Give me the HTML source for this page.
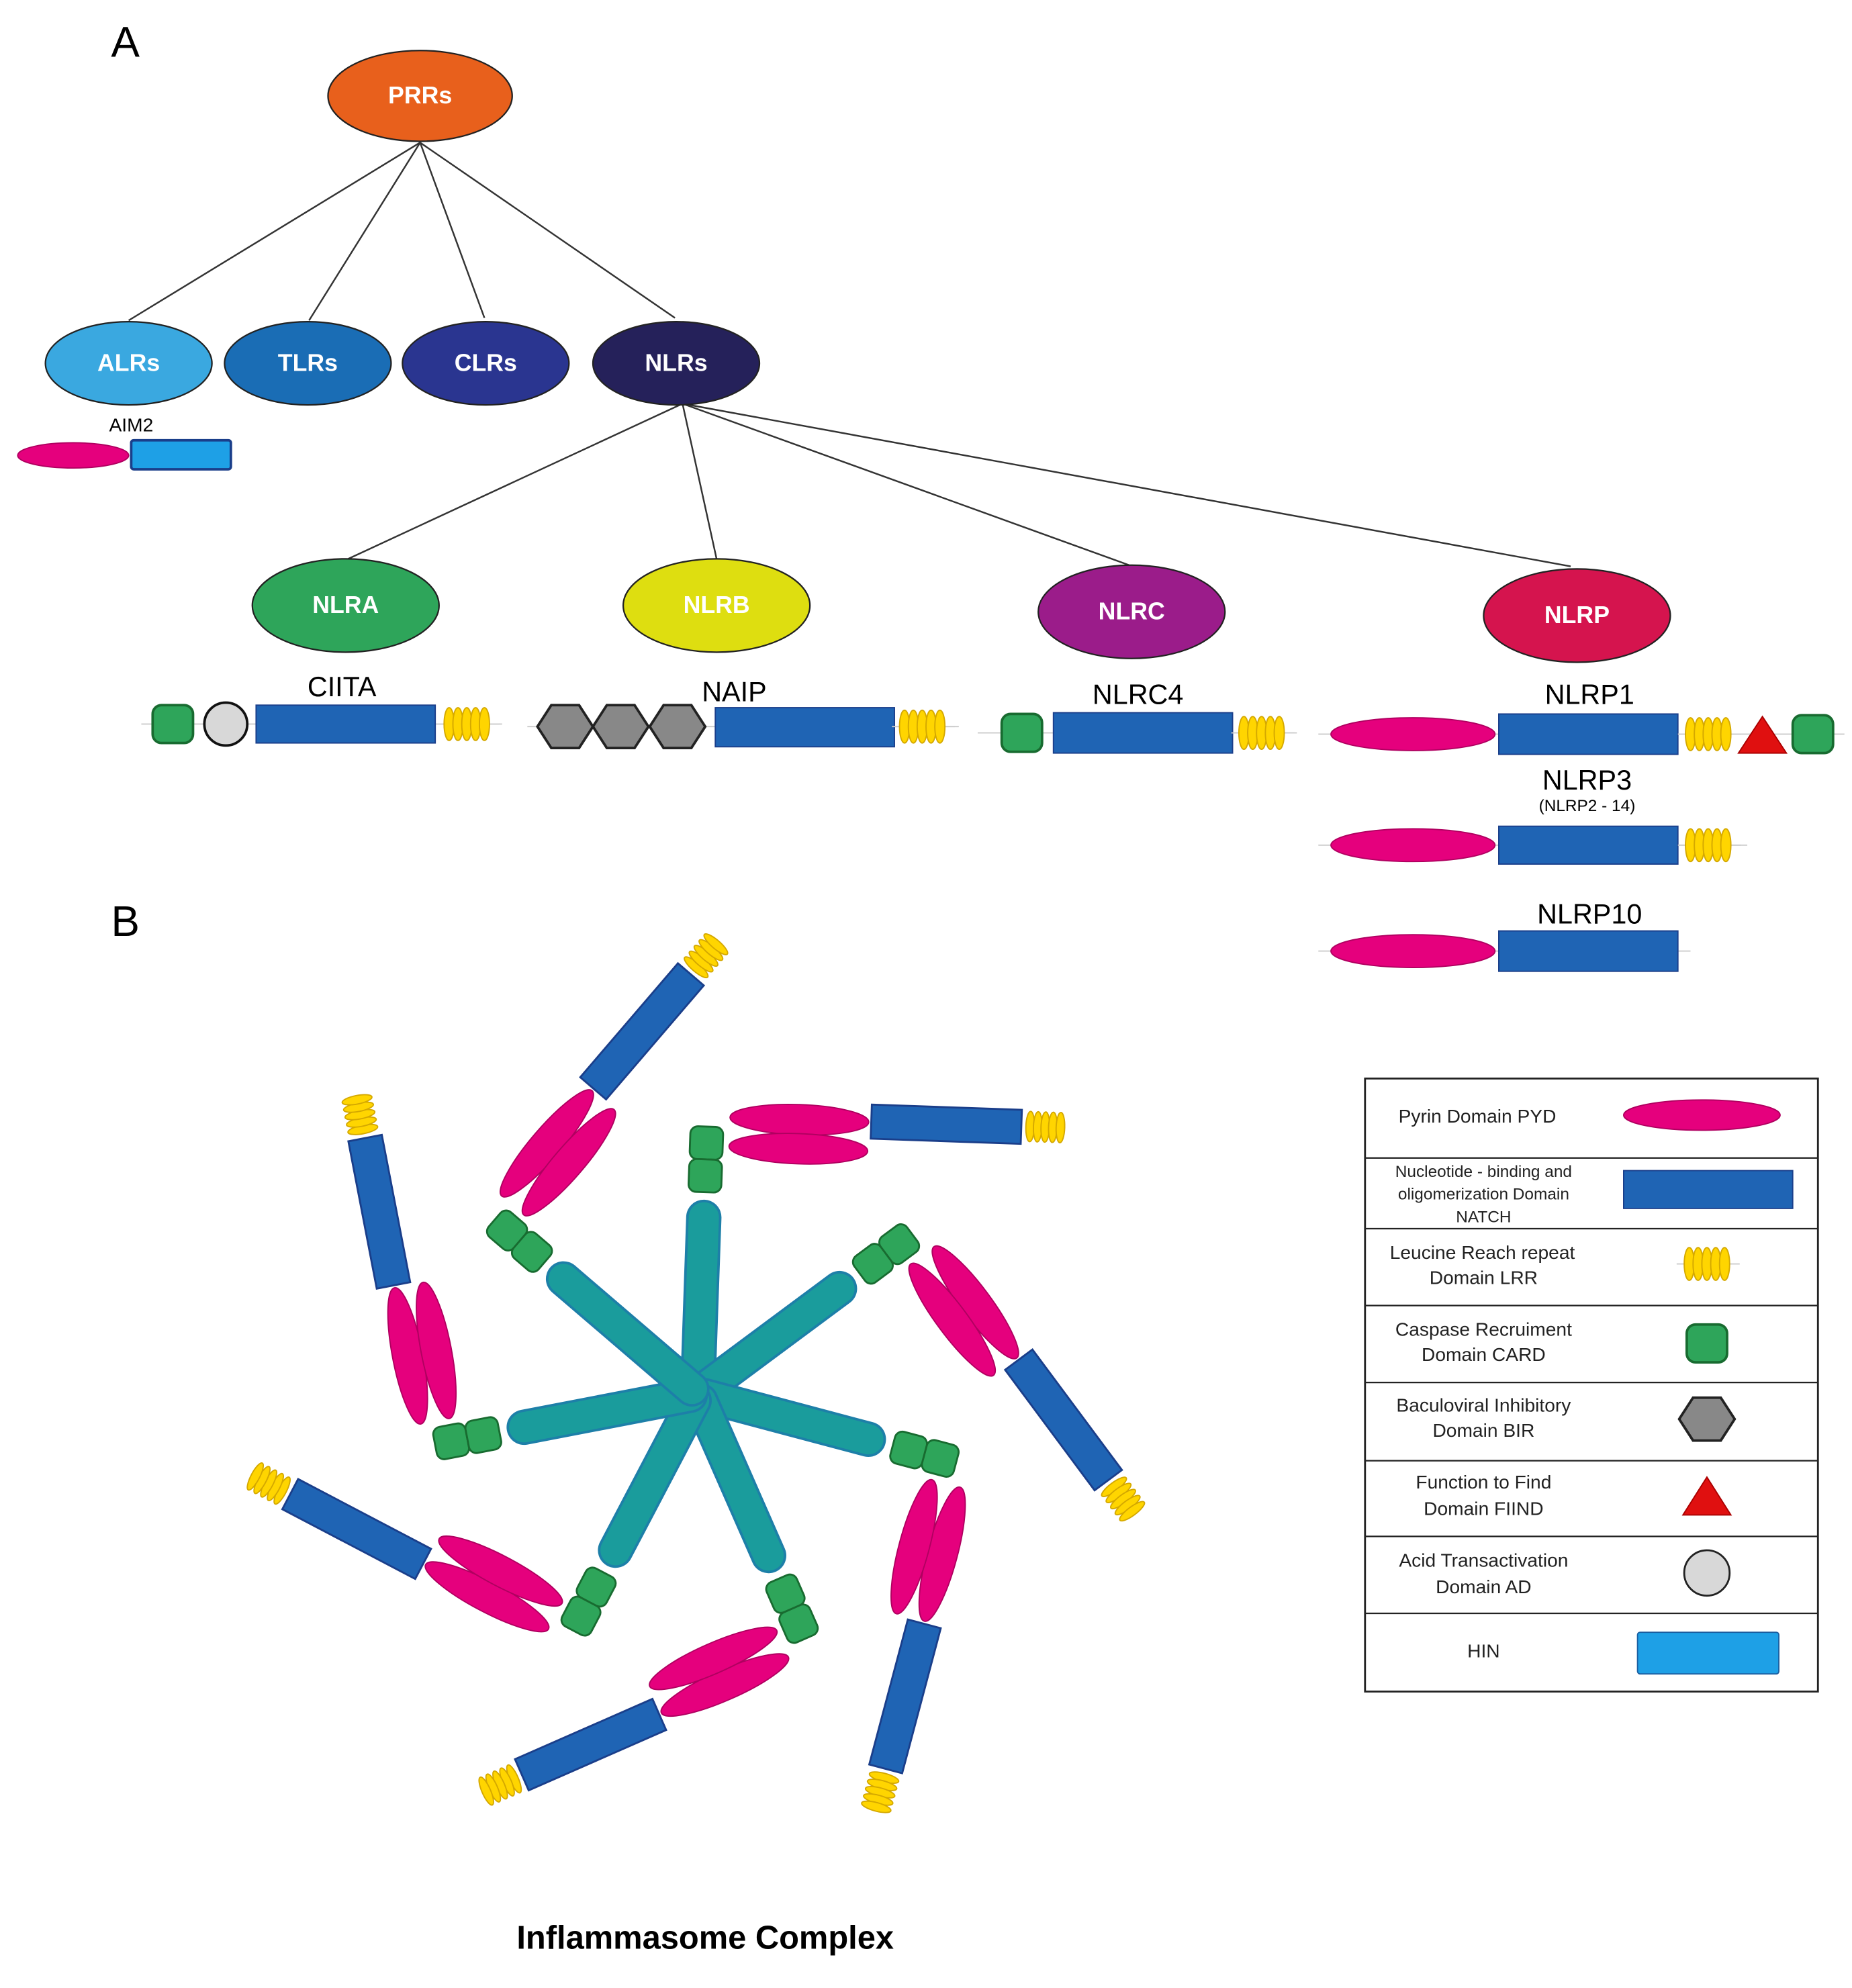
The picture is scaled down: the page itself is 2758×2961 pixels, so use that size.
<!DOCTYPE html>
<html><head><meta charset="utf-8"><style>
html,body{margin:0;padding:0;background:#fff}
svg{display:block}
text{font-family:"Liberation Sans",sans-serif}
</style></head><body>
<svg width="2758" height="2961" viewBox="0 0 1468 1576" xmlns="http://www.w3.org/2000/svg">
<defs>
<g id="lrr">
<line x1="-6" y1="0" x2="44" y2="0" stroke="#ccc" stroke-width="1"/>
<ellipse cx="4" cy="0" rx="4" ry="13" fill="#ffd500" stroke="#d4a800" stroke-width="1"/>
<ellipse cx="11" cy="0" rx="4" ry="13" fill="#ffd500" stroke="#d4a800" stroke-width="1"/>
<ellipse cx="18" cy="0" rx="4" ry="13" fill="#ffd500" stroke="#d4a800" stroke-width="1"/>
<ellipse cx="25" cy="0" rx="4" ry="13" fill="#ffd500" stroke="#d4a800" stroke-width="1"/>
<ellipse cx="32" cy="0" rx="4" ry="13" fill="#ffd500" stroke="#d4a800" stroke-width="1"/>
</g>
<g id="lrrs">
<ellipse cx="3" cy="0" rx="3.4" ry="12" fill="#ffd500" stroke="#d4a800" stroke-width="1"/>
<ellipse cx="9" cy="0" rx="3.4" ry="12" fill="#ffd500" stroke="#d4a800" stroke-width="1"/>
<ellipse cx="15" cy="0" rx="3.4" ry="12" fill="#ffd500" stroke="#d4a800" stroke-width="1"/>
<ellipse cx="21" cy="0" rx="3.4" ry="12" fill="#ffd500" stroke="#d4a800" stroke-width="1"/>
<ellipse cx="27" cy="0" rx="3.4" ry="12" fill="#ffd500" stroke="#d4a800" stroke-width="1"/>
</g>
<rect id="card" x="-16" y="-15" width="32" height="30" rx="7" fill="#2ea55a" stroke="#186b30" stroke-width="2"/>
<polygon id="hex" points="-22,0 -11,-17 11,-17 22,0 11,17 -11,17" fill="#888" stroke="#222" stroke-width="2"/>
<g id="arm">
<line x1="0" y1="-6" x2="0" y2="-140" stroke="#1d7fa8" stroke-width="28" stroke-linecap="round"/>
<line x1="0" y1="-6" x2="0" y2="-140" stroke="#1a9c9c" stroke-width="24" stroke-linecap="round"/>
</g>
<g id="unit">
<rect x="-13" y="-212" width="26" height="26" rx="6" fill="#2ea55a" stroke="#186b30" stroke-width="1.5"/>
<rect x="-13" y="-186" width="26" height="26" rx="6" fill="#2ea55a" stroke="#186b30" stroke-width="1.5"/>
<ellipse cx="73" cy="-220" rx="55" ry="12" fill="#e5007d" stroke="#b00060" stroke-width="1"/>
<ellipse cx="73" cy="-197" rx="55" ry="12" fill="#e5007d" stroke="#b00060" stroke-width="1"/>
<rect x="130" y="-234" width="119" height="27" fill="#1f64b4" stroke="#1a3e8a" stroke-width="1.5"/>
<use href="#lrrs" transform="translate(253,-221)"/>
</g>
</defs>

<text x="88" y="45" font-size="34">A</text>
<text x="88" y="742" font-size="34">B</text>

<g stroke="#333" stroke-width="1.3">
<line x1="333" y1="113" x2="102" y2="254"/>
<line x1="333" y1="113" x2="245" y2="254"/>
<line x1="333" y1="113" x2="384" y2="252"/>
<line x1="333" y1="113" x2="535" y2="252"/>
<line x1="541" y1="320" x2="276" y2="443"/>
<line x1="541" y1="320" x2="568" y2="443"/>
<line x1="541" y1="320" x2="895" y2="448"/>
<line x1="541" y1="320" x2="1245" y2="449"/>
</g>

<g stroke="#222" stroke-width="1.2">
<ellipse cx="333" cy="76" rx="73" ry="36" fill="#e8601c"/>
<ellipse cx="102" cy="288" rx="66" ry="33" fill="#3aa8e0"/>
<ellipse cx="244" cy="288" rx="66" ry="33" fill="#1a6db5"/>
<ellipse cx="385" cy="288" rx="66" ry="33" fill="#2a3590"/>
<ellipse cx="536" cy="288" rx="66" ry="33" fill="#25215a"/>
<ellipse cx="274" cy="480" rx="74" ry="37" fill="#2ea55a"/>
<ellipse cx="568" cy="480" rx="74" ry="37" fill="#dede10"/>
<ellipse cx="897" cy="485" rx="74" ry="37" fill="#9b1c8a"/>
<ellipse cx="1250" cy="488" rx="74" ry="37" fill="#d5144e"/>
</g>
<g fill="#fff" font-weight="bold" font-size="19" text-anchor="middle">
<text x="333" y="82">PRRs</text>
<text x="102" y="294">ALRs</text>
<text x="244" y="294">TLRs</text>
<text x="385" y="294">CLRs</text>
<text x="536" y="294">NLRs</text>
<text x="274" y="486">NLRA</text>
<text x="568" y="486">NLRB</text>
<text x="897" y="491">NLRC</text>
<text x="1250" y="494">NLRP</text>
</g>

<text x="104" y="342" font-size="15" text-anchor="middle">AIM2</text>
<ellipse cx="58" cy="361" rx="44" ry="10" fill="#e5007d" stroke="#b00060"/>
<rect x="104" y="349" width="79" height="23" rx="2" fill="#1ea0e6" stroke="#1a3e8a" stroke-width="2"/>

<g font-size="22" text-anchor="middle">
<text x="271" y="552">CIITA</text>
<text x="582" y="556">NAIP</text>
<text x="902" y="558">NLRC4</text>
<text x="1260" y="558">NLRP1</text>
<text x="1258" y="626">NLRP3</text>
<text x="1260" y="732">NLRP10</text>
</g>
<text x="1258" y="643" font-size="13" text-anchor="middle">(NLRP2 - 14)</text>

<!-- CIITA -->
<line x1="112" y1="574" x2="398" y2="574" stroke="#ccc"/>
<use href="#card" x="137" y="574"/>
<circle cx="179" cy="574" r="17" fill="#d8d8d8" stroke="#111" stroke-width="2"/>
<rect x="203" y="559" width="142" height="30" fill="#1f64b4" stroke="#1a3e8a"/>
<use href="#lrr" x="352" y="574"/>
<!-- NAIP -->
<line x1="418" y1="576" x2="760" y2="576" stroke="#ccc"/>
<use href="#hex" x="448" y="576"/>
<use href="#hex" x="492" y="576"/>
<use href="#hex" x="537" y="576"/>
<rect x="567" y="561" width="142" height="31" fill="#1f64b4" stroke="#1a3e8a"/>
<use href="#lrr" x="713" y="576"/>
<!-- NLRC4 -->
<line x1="775" y1="581" x2="1028" y2="581" stroke="#ccc"/>
<use href="#card" x="810" y="581"/>
<rect x="835" y="565" width="142" height="32" fill="#1f64b4" stroke="#1a3e8a"/>
<use href="#lrr" x="982" y="581"/>
<!-- NLRP1 -->
<line x1="1045" y1="582" x2="1462" y2="582" stroke="#ccc"/>
<ellipse cx="1120" cy="582" rx="65" ry="13" fill="#e5007d" stroke="#b00060"/>
<rect x="1188" y="566" width="142" height="32" fill="#1f64b4" stroke="#1a3e8a"/>
<use href="#lrr" x="1336" y="582"/>
<polygon points="1378,597 1397,568 1416,597" fill="#e01010" stroke="#a00" stroke-width="1"/>
<use href="#card" x="1437" y="582"/>
<!-- NLRP3 -->
<line x1="1045" y1="670" x2="1385" y2="670" stroke="#ccc"/>
<ellipse cx="1120" cy="670" rx="65" ry="13" fill="#e5007d" stroke="#b00060"/>
<rect x="1188" y="655" width="142" height="30" fill="#1f64b4" stroke="#1a3e8a"/>
<use href="#lrr" x="1336" y="670"/>
<!-- NLRP10 -->
<line x1="1045" y1="754" x2="1340" y2="754" stroke="#ccc"/>
<ellipse cx="1120" cy="754" rx="65" ry="13" fill="#e5007d" stroke="#b00060"/>
<rect x="1188" y="738" width="142" height="32" fill="#1f64b4" stroke="#1a3e8a"/>

<!-- Inflammasome complex -->
<g transform="translate(553,1105)">
<use href="#arm" transform="rotate(2)"/>
<use href="#arm" transform="rotate(53.4)"/>
<use href="#arm" transform="rotate(104.9)"/>
<use href="#arm" transform="rotate(156.3)"/>
<use href="#arm" transform="rotate(207.7)"/>
<use href="#arm" transform="rotate(259.1)"/>
<use href="#arm" transform="rotate(310.6)"/>
<use href="#unit" transform="rotate(2)"/>
<use href="#unit" transform="rotate(53.4)"/>
<use href="#unit" transform="rotate(104.9)"/>
<use href="#unit" transform="rotate(156.3)"/>
<use href="#unit" transform="rotate(207.7)"/>
<use href="#unit" transform="rotate(259.1)"/>
<use href="#unit" transform="rotate(310.6)"/>
</g>
<text x="559" y="1545" font-size="26" font-weight="bold" text-anchor="middle">Inflammasome Complex</text>

<!-- Legend -->
<rect x="1082" y="855" width="359" height="486" fill="none" stroke="#222" stroke-width="1.5"/>
<g stroke="#222" stroke-width="1.2">
<line x1="1082" y1="918" x2="1441" y2="918"/>
<line x1="1082" y1="974" x2="1441" y2="974"/>
<line x1="1082" y1="1035" x2="1441" y2="1035"/>
<line x1="1082" y1="1096" x2="1441" y2="1096"/>
<line x1="1082" y1="1158" x2="1441" y2="1158"/>
<line x1="1082" y1="1218" x2="1441" y2="1218"/>
<line x1="1082" y1="1279" x2="1441" y2="1279"/>
</g>
<g font-size="15" text-anchor="middle" fill="#222">
<text x="1171" y="890">Pyrin Domain PYD</text>
<text x="1176" y="933" font-size="13">Nucleotide - binding and</text>
<text x="1176" y="951" font-size="13">oligomerization Domain</text>
<text x="1176" y="969" font-size="13">NATCH</text>
<text x="1175" y="998">Leucine Reach repeat</text>
<text x="1176" y="1018">Domain LRR</text>
<text x="1176" y="1059">Caspase Recruiment</text>
<text x="1176" y="1079">Domain CARD</text>
<text x="1176" y="1119">Baculoviral Inhibitory</text>
<text x="1176" y="1139">Domain BIR</text>
<text x="1176" y="1180">Function to Find</text>
<text x="1176" y="1201">Domain FIIND</text>
<text x="1176" y="1242">Acid Transactivation</text>
<text x="1176" y="1263">Domain AD</text>
<text x="1176" y="1314">HIN</text>
</g>
<ellipse cx="1349" cy="884" rx="62" ry="12" fill="#e5007d" stroke="#b00060"/>
<rect x="1287" y="928" width="134" height="30" fill="#1f64b4" stroke="#1a3e8a"/>
<use href="#lrr" x="1335" y="1002"/>
<use href="#card" x="1353" y="1065"/>
<use href="#hex" x="1353" y="1125"/>
<polygon points="1334,1201 1353,1171 1372,1201" fill="#e01010" stroke="#a00"/>
<circle cx="1353" cy="1247" r="18" fill="#d8d8d8" stroke="#222" stroke-width="1.5"/>
<rect x="1298" y="1294" width="112" height="33" rx="2" fill="#1ea0e6" stroke="#1a5ea0"/>
</svg>
</body></html>
